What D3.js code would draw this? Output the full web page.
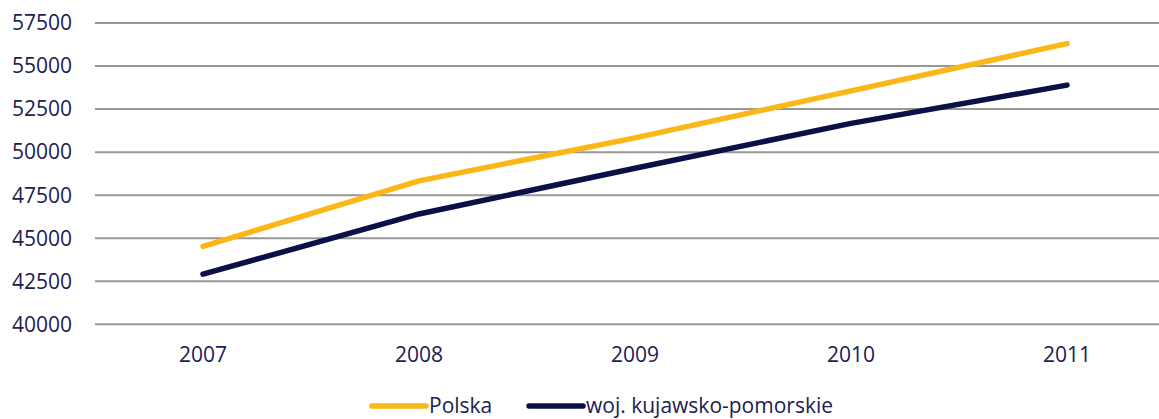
<!DOCTYPE html>
<html lang="pl">
<head>
<meta charset="utf-8">
<title>Polska vs woj. kujawsko-pomorskie</title>
<script src="https://d3js.org/d3.v7.min.js"></script>
<style>
    body { margin: 0; background: #fff; }
    text { font-family: "Open Sans", "Noto Sans", sans-serif; fill: #1c2052; }
</style>
</head>
<body>
<svg class="chart"></svg>
<script>
    // data
    var years = ["2007", "2008", "2009", "2010", "2011"];
    var polska = [44520, 48330, 50830, 53560, 56300];
    var kujawsko = [42910, 46410, 49060, 51670, 53890];
    var yTicks = [40000, 42500, 45000, 47500, 50000, 52500, 55000, 57500];
    var seriesNames = ["Polska", "woj. kujawsko-pomorskie"];
    var seriesColors = ["#fbb718", "#0b1046"];

    var width = 1159, height = 419;
    var margin = {top: 23, left: 95, right: -16, bottom: 95};

    var svg = d3.select(".chart")
        .attr("width", width)
        .attr("height", height);

    var x = d3.scalePoint()
        .domain(years)
        .range([margin.left, width - margin.right])
        .padding(0.5);

    var y = d3.scaleLinear()
        .domain([40000, 57500])
        .range([height - margin.bottom + 0.3, margin.top]);

    // gridlines
    svg.append("g")
        .selectAll("line")
        .data(yTicks)
        .enter().append("line")
        .attr("x1", margin.left)
        .attr("x2", width)
        .attr("y1", function(d) { return y(d); })
        .attr("y2", function(d) { return y(d); })
        .attr("stroke", "#979797")
        .attr("stroke-width", 2);

    // y labels
    svg.append("g")
        .selectAll("text")
        .data(yTicks)
        .enter().append("text")
        .attr("x", 72)
        .attr("y", function(d) { return y(d); })
        .attr("dy", "0.35em")
        .attr("text-anchor", "end")
        .style("font-size", "21px")
        .text(function(d) { return d; });

    // x labels
    svg.append("g")
        .selectAll("text")
        .data(years)
        .enter().append("text")
        .attr("x", function(d) { return x(d); })
        .attr("y", 355)
        .attr("dy", "0.35em")
        .attr("text-anchor", "middle")
        .style("font-size", "21px")
        .text(function(d) { return d; });

    var line = d3.line()
        .x(function(d, i) { return x(years[i]); })
        .y(function(d) { return y(d); });

    [polska, kujawsko].forEach(function(vals, i) {
        svg.append("path")
            .datum(vals)
            .attr("d", line)
            .attr("fill", "none")
            .attr("stroke", seriesColors[i])
            .attr("stroke-width", 5.5)
            .attr("stroke-linecap", "round")
            .attr("stroke-linejoin", "round");
    });

    // legend
    var legendX = [372, 529];
    var legend = svg.append("g")
        .selectAll("g")
        .data(seriesNames)
        .enter().append("g")
        .attr("transform", function(d, i) { return "translate(" + legendX[i] + ",406)"; });

    legend.append("line")
        .attr("x1", 0)
        .attr("x2", 54)
        .attr("stroke", function(d, i) { return seriesColors[i]; })
        .attr("stroke-width", 5.5)
        .attr("stroke-linecap", "round");

    legend.append("text")
        .attr("x", 57)
        .attr("dy", "0.35em")
        .style("font-size", "21px")
        .text(function(d) { return d; });
</script>
</body>
</html>
